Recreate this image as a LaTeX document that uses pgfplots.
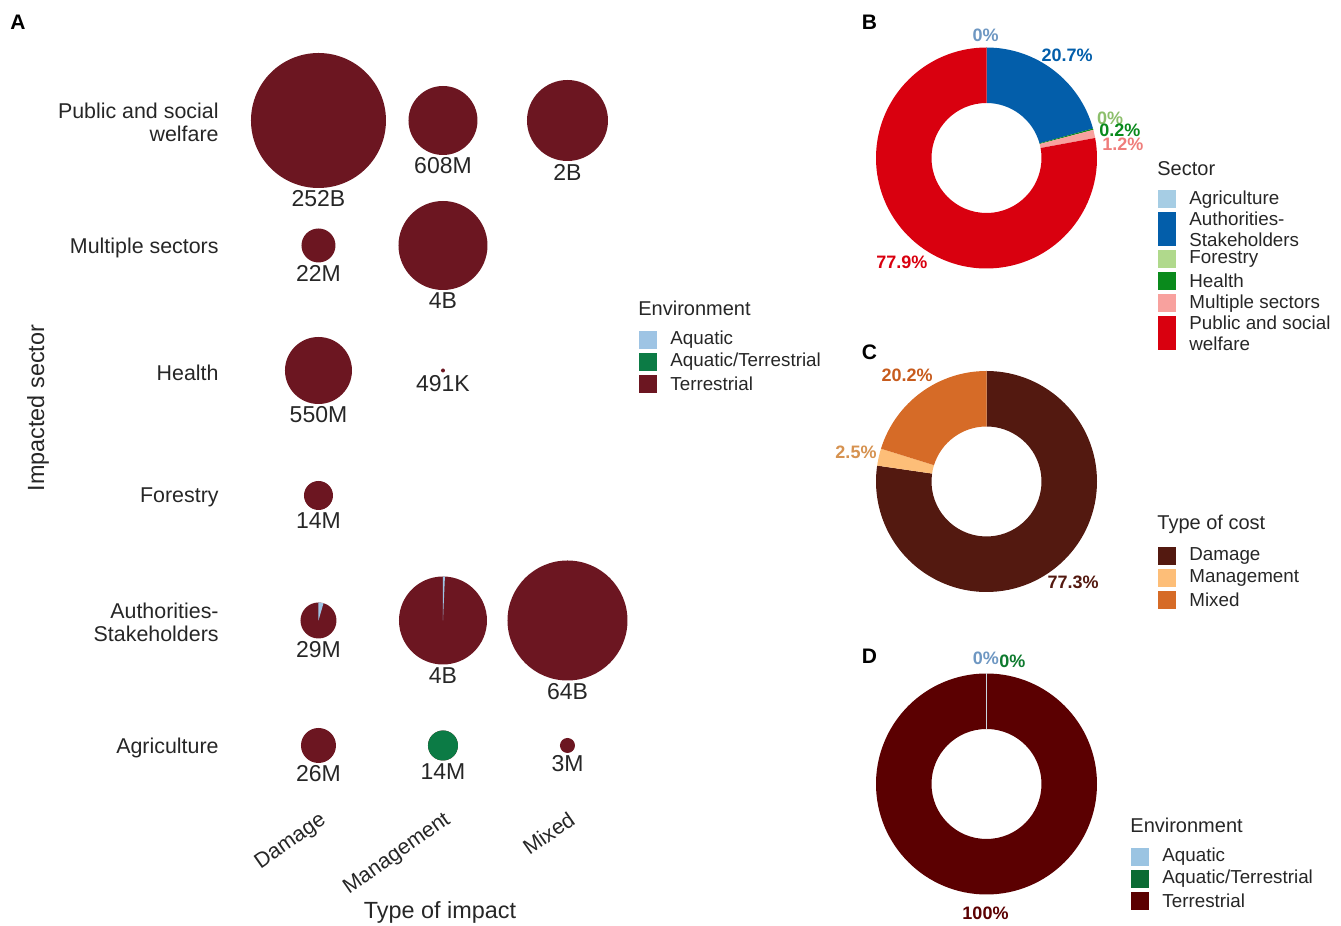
\documentclass[border=0pt]{standalone}
\usepackage{fontspec}
\setmainfont{Liberation Sans}
\usepackage{pgfplots}
\pgfplotsset{compat=1.18}

% colours
\definecolor{txt}{HTML}{262626}
\definecolor{cTer}{HTML}{6C1621}
\definecolor{cAq}{HTML}{9EC4E4}
\definecolor{cAqT}{HTML}{0C7B45}
\definecolor{cAgri}{HTML}{A6CDE4}
\definecolor{cAuth}{HTML}{035EAA}
\definecolor{cFor}{HTML}{B0D98C}
\definecolor{cHea}{HTML}{0A8A1C}
\definecolor{cMul}{HTML}{F8A19E}
\definecolor{cPub}{HTML}{D9000F}
\definecolor{cDam}{HTML}{531910}
\definecolor{cMan}{HTML}{FDBE78}
\definecolor{cMix}{HTML}{D66B27}
\definecolor{cTerD}{HTML}{5B0001}
\definecolor{cAqD}{HTML}{C9D6E0}
\definecolor{cAqTD}{HTML}{0B6B34}
\definecolor{kAqD}{HTML}{9BC4E2}
\definecolor{tAgri}{HTML}{6E97C2}
\definecolor{tFor}{HTML}{8CBF6B}
\definecolor{tMul}{HTML}{EF7D7B}
\definecolor{tMan}{HTML}{D69250}
\definecolor{tMix}{HTML}{C75B1D}
\definecolor{tAqTD}{HTML}{0E7A2E}

\newcommand\fsz[2]{\fontsize{#1}{#2}\selectfont}
\pgfdeclareplotmark{blank}{}

% pie bubble, radius in px (1px = 0.5pt)
\newcommand\bubble{%
  \pgfmathsetmacro\bubR{0.5*\bubr}%
  \pgfmathsetmacro\bubA{90-3.6*\bubaq}%
  \pgfmathsetmacro\bubB{90-3.6*(\bubaq+\bubat)}%
  \pgfmathsetmacro\bubY{-0.5*(\bubr+11)}%
  \fill[cTer, draw=none] (0pt,0pt) circle[radius=\bubR pt];%
  \ifdim\bubaq pt>0pt
    \fill[cAq, draw=none] (0pt,0pt) -- (90:\bubR pt) arc[start angle=90, end angle=\bubA, radius=\bubR pt] -- cycle;%
  \fi
  \ifdim\bubat pt>0pt
    \fill[cAqT, draw=none] (0pt,0pt) -- (\bubA:\bubR pt) arc[start angle=\bubA, end angle=\bubB, radius=\bubR pt] -- cycle;%
  \fi
  \node[anchor=center, inner sep=0pt, draw=none, fill=none, text=txt, font=\fsz{11.5}{13}] at (0pt,\bubY pt) {\bubl};%
}

% donut slice from percent \sA to \sB, clockwise from the top
\newcommand\donutslice{%
  \pgfmathsetmacro\dA{90-3.6*\sA}%
  \pgfmathsetmacro\dB{90-3.6*\sB}%
  \pgfmathsetmacro\dS{\sB-\sA}%
  \ifdim\dS pt>0pt
    \fill[fill=\sC, draw=none] (\dA:27.5pt) -- (\dA:55.25pt) arc[start angle=\dA, end angle=\dB, radius=55.25pt]
      -- (\dB:27.5pt) arc[start angle=\dB, end angle=\dA, radius=27.5pt] -- cycle;%
  \fi
  \ifdim\sW pt>0pt \draw[draw=\sC, fill=none, line width=\sW pt] (\dA:27.5pt) -- (\dA:55.25pt);\fi
}

\pgfplotsset{
  lgtitle/.style={legend image code/.code={\path[draw=none, fill=none] (0pt,-10pt) rectangle (15.5pt,10pt);}},
  lgkey/.style={legend image code/.code={\path[draw=none, fill=none] (0pt,-5.5pt) rectangle (15.5pt,5.5pt);\fill[#1, draw=none] (0pt,-4.5pt) rectangle (9pt,4.5pt);}},
  lgkeyii/.style={legend image code/.code={\path[draw=none, fill=none] (0pt,-9.5pt) rectangle (15.5pt,9.5pt);\fill[#1, draw=none] (0pt,-8.5pt) rectangle (9pt,8.5pt);}},
  panellegend/.style={legend style={draw=none, fill=none, inner sep=0pt, row sep=0pt, column sep=0pt,
      nodes={inner sep=0pt, text depth=, text=txt, align=left, draw=none},
      font=\fsz{9.4}{10.5}, anchor=north west, at={#1}},
    legend cell align=left},
  donut/.style={width=110.5pt, height=110.5pt, scale only axis, anchor=south west,
    xmin=-1, xmax=1, ymin=-1, ymax=1, hide axis, clip=false},
  slices/.style={forget plot, scatter, only marks, mark=blank, point meta min=0, point meta max=1,
    visualization depends on={value \thisrow{p0}\as\sA},
    visualization depends on={value \thisrow{p1}\as\sB},
    visualization depends on={value \thisrow{col}\as\sC},
    visualization depends on={value \thisrow{w}\as\sW},
    scatter/@pre marker code/.code={\donutslice},
    scatter/@post marker code/.code={}},
  pct/.style={forget plot, only marks, mark=blank, point meta=explicit symbolic,
    visualization depends on={value \thisrow{col}\as\tC},
    nodes near coords={\pgfplotspointmeta\%},
    every node near coord/.style={anchor=center, inner sep=0pt, font=\bfseries\fsz{9}{10}, text=\tC}},
}

\begin{document}
\begin{tikzpicture}
\path[use as bounding box] (0pt,0pt) rectangle (670.5pt,463pt);

% ---------- A ----------
\begin{axis}[at={(111pt,59pt)}, anchor=south west, scale only axis,
  width=203.875pt, height=375pt,
  xmin=0.225, xmax=3.5, ymin=0.5, ymax=6.5, clip=false,
  axis line style={draw=none}, tick style={draw=none}, major tick length=0pt,
  xtick={1,2,3}, xticklabels={Damage,Management,Mixed},
  ytick={1,...,6},
  yticklabels={Agriculture,{Authorities-\\Stakeholders},Forestry,Health,Multiple sectors,{Public and social\\welfare}},
  tick label style={font=\fsz{10.7}{11.5}, text=txt, inner sep=0pt},
  yticklabel style={align=right, anchor=east, xshift=-1.5pt, yshift=-1pt},
  xticklabel style={xshift=0pt, yshift=-1pt, rotate=35, anchor=north east},
  xlabel={Type of impact}, ylabel={Impacted sector},
  label style={font=\fsz{11.7}{14}, text=txt},
  xlabel style={at={(axis description cs:0.5346,-0.1387)}, anchor=center},
  ylabel style={at={(axis description cs:-0.4513,0.5333)}, anchor=center},
  panellegend={(1.0227,0.6929)},
]
\addplot[forget plot, scatter, only marks, mark=blank, point meta min=0, point meta max=1,
  visualization depends on={value \thisrow{r}\as\bubr},
  visualization depends on={value \thisrow{aq}\as\bubaq},
  visualization depends on={value \thisrow{at}\as\bubat},
  visualization depends on={value \thisrow{lbl}\as\bubl},
  scatter/@pre marker code/.code={\bubble},
  scatter/@post marker code/.code={}]
table {
x y r aq at lbl
1 6 67.5 0 0 252B
2 6 34.5 0 0 608M
3 6 40.5 0 0 2B
1 5 17 0 0 22M
2 5 44.5 0 0 4B
1 4 33.5 0 0 550M
2 4 2 0 0 491K
1 3 14.5 0 0 14M
1 2 18 4.5 0 29M
2 2 44 0.7 0 4B
3 2 60 0 0 64B
1 1 17.5 0 0 26M
2 1 15 0 100 14M
3 1 7.5 0 0 3M
};
\addlegendimage{lgtitle}\addlegendentry{\hspace*{-16pt}\fsz{10}{12}Environment}
\addlegendimage{lgkey=cAq}\addlegendentry{Aquatic}
\addlegendimage{lgkey=cAqT}\addlegendentry{Aquatic/Terrestrial}
\addlegendimage{lgkey=cTer}\addlegendentry{Terrestrial}
\end{axis}

% ---------- B ----------
\begin{axis}[donut, at={(438pt,328.75pt)}, panellegend={(1.276,0.546)}]
\addplot[slices] table {
x y p0 p1 col w
0 0 0 0 cAgri 0
0 0 0 20.7 cAuth 0
0 0 20.7 20.7 cFor 0
0 0 20.7 20.9 cHea 0
0 0 20.9 22.1 cMul 0
0 0 22.1 100 cPub 0
};
\addplot[pct] table[meta=lbl] {
x y lbl col
-0.009 1.113 0 tAgri
0.729 0.932 20.7 cAuth
1.118 0.362 0 tFor
1.208 0.253 0.2 cHea
1.235 0.127 1.2 tMul
-0.765 -0.941 77.9 cPub
};
\addlegendimage{lgtitle}\addlegendentry{\hspace*{-16pt}\fsz{10}{12}Sector}
\addlegendimage{lgkey=cAgri}\addlegendentry{Agriculture}
\addlegendimage{lgkeyii=cAuth}\addlegendentry{Authorities-\\Stakeholders}
\addlegendimage{lgkey=cFor}\addlegendentry{Forestry}
\addlegendimage{lgkey=cHea}\addlegendentry{Health}
\addlegendimage{lgkey=cMul}\addlegendentry{Multiple sectors}
\addlegendimage{lgkeyii=cPub}\addlegendentry{Public and social\\welfare}
\end{axis}

% ---------- C ----------
\begin{axis}[donut, at={(438pt,167pt)}, panellegend={(1.276,0.397)}]
\addplot[slices] table {
x y p0 p1 col w
0 0 0 77.3 cDam 0
0 0 77.3 79.8 cMan 0
0 0 79.8 100 cMix 0
};
\addplot[pct] table[meta=lbl] {
x y lbl col
-0.719 0.964 20.2 tMix
-1.181 0.262 2.5 tMan
0.783 -0.914 77.3 cDam
};
\addlegendimage{lgtitle}\addlegendentry{\hspace*{-16pt}\fsz{10}{12}Type of cost}
\addlegendimage{lgkey=cDam}\addlegendentry{Damage}
\addlegendimage{lgkey=cMan}\addlegendentry{Management}
\addlegendimage{lgkey=cMix}\addlegendentry{Mixed}
\end{axis}

% ---------- D ----------
\begin{axis}[donut, at={(438pt,15.75pt)}, panellegend={(1.154,0.4036)}]
\addplot[slices] table {
x y p0 p1 col w
0 0 0 100 cTerD 0
0 0 0 0 cAqD 0.6
0 0 0 0 cAqTD 0
};
\addplot[pct] table[meta=lbl] {
x y lbl col
-0.005 1.140 0 tAgri
0.235 1.109 0 tAqTD
-0.009 -1.172 100 cTerD
};
\addlegendimage{lgtitle}\addlegendentry{\hspace*{-16pt}\fsz{10}{12}Environment}
\addlegendimage{lgkey=kAqD}\addlegendentry{Aquatic}
\addlegendimage{lgkey=cAqTD}\addlegendentry{Aquatic/Terrestrial}
\addlegendimage{lgkey=cTerD}\addlegendentry{Terrestrial}
\end{axis}

% panel letters
\node[font=\bfseries\fsz{10.5}{12}] at (9pt,452pt) {A};
\node[font=\bfseries\fsz{10.5}{12}] at (434.75pt,451.75pt) {B};
\node[font=\bfseries\fsz{10.5}{12}] at (434.75pt,286.75pt) {C};
\node[font=\bfseries\fsz{10.5}{12}] at (434.75pt,134.75pt) {D};
\end{tikzpicture}
\end{document}
